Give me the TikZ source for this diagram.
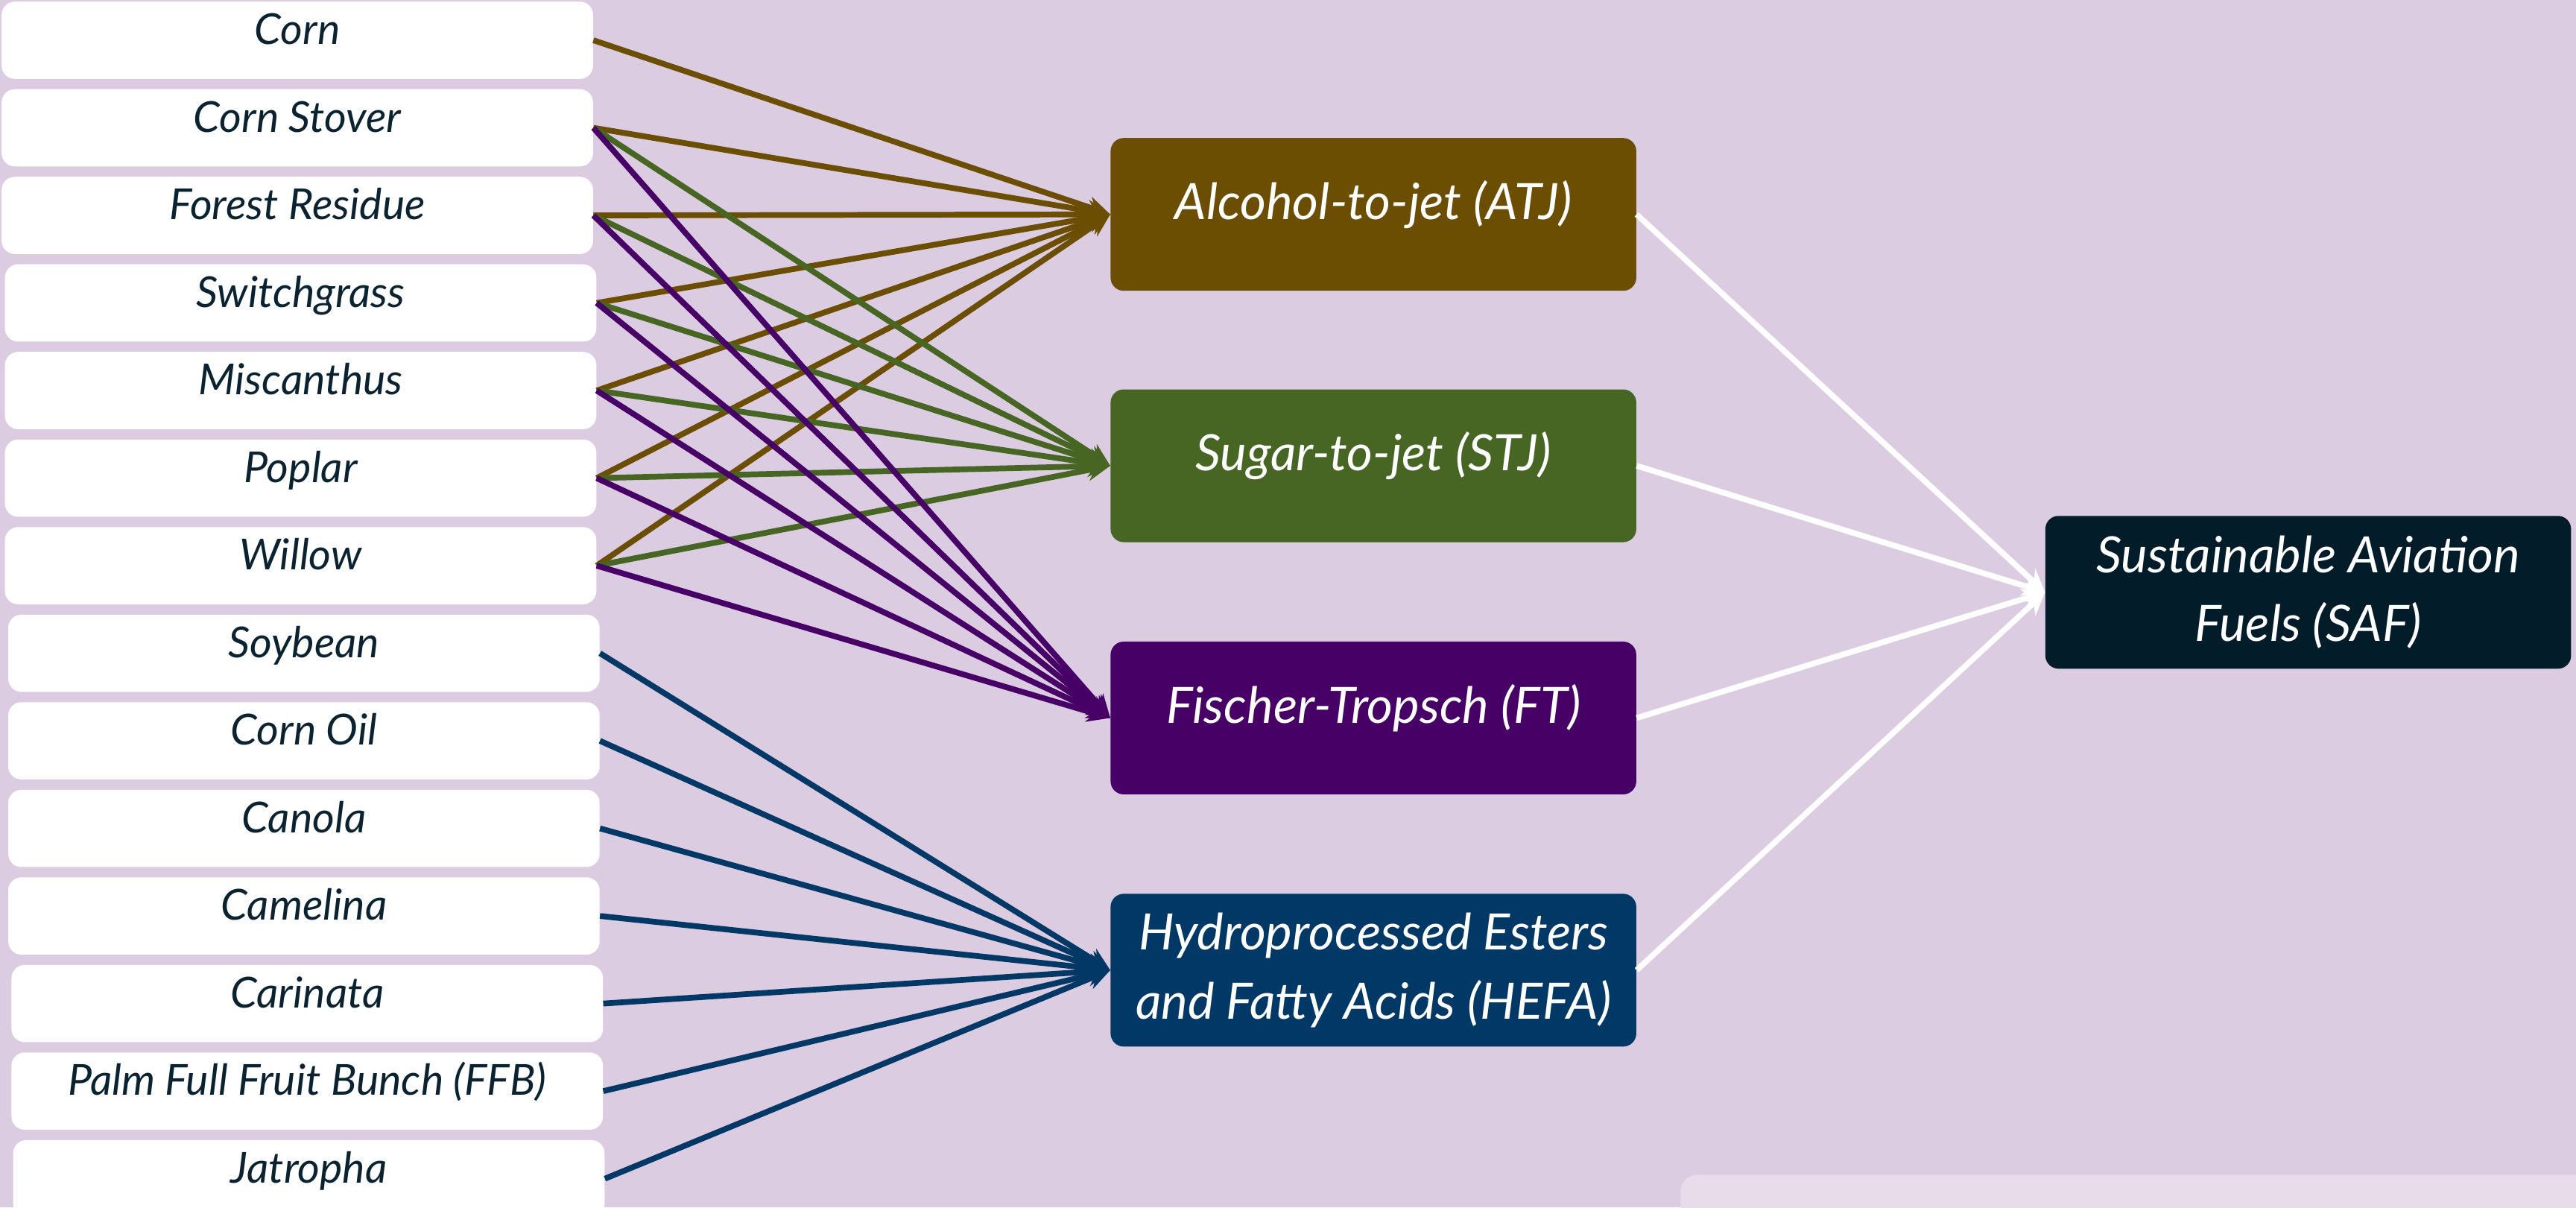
\documentclass[tikz,border=0pt]{standalone}
\usepackage{fontspec}
\setmainfont{Lato}
\usetikzlibrary{arrows.meta}
\definecolor{bgc}{RGB}{220,204,226}
\definecolor{lightc}{RGB}{232,220,234}
\definecolor{atjc}{RGB}{107,78,2}
\definecolor{stjc}{RGB}{71,102,36}
\definecolor{ftc}{RGB}{70,0,102}
\definecolor{hefac}{RGB}{2,56,102}
\definecolor{safc}{RGB}{2,28,41}
\definecolor{txtc}{RGB}{11,35,49}
\newcommand{\feedfont}{\fontsize{26}{30}\selectfont\itshape}
\newcommand{\procfont}{\fontsize{30.5}{42}\selectfont\itshape}
\tikzset{
  feed/.style={fill=white, rounded corners=8pt, minimum width=360pt, minimum height=47pt, inner sep=0pt, text height=19pt, text depth=14pt, text=txtc, font=\feedfont},
  proc/.style={rounded corners=8pt, minimum width=320pt, minimum height=93pt, inner sep=0pt, text=white, font=\procfont, align=center},
  proc1/.style={proc, text height=22pt, text depth=16pt},
  arr/.style={line width=3.5pt, -{Stealth[length=14pt,width=13pt]}},
}
\begin{document}
\begin{tikzpicture}[x=1pt,y=-1pt]
\useasboundingbox (0,0) rectangle (1568,735);
\clip (0,0) rectangle (1568,735);
\fill[bgc] (0,0) rectangle (1568,735);
\fill[lightc, rounded corners=10pt] (1023,715) rectangle (1600,780);
% feedstocks
\node[feed] (corn) at (181,24.5) {Corn};
\node[feed] (stover) at (181,77.8) {Corn Stover};
\node[feed] (forest) at (181,131.1) {Forest Residue};
\node[feed] (switch) at (183,184.4) {Switchgrass};
\node[feed] (misc) at (183,237.7) {Miscanthus};
\node[feed] (poplar) at (183,291) {Poplar};
\node[feed] (willow) at (183,344.3) {Willow};
\node[feed] (soy) at (185,397.6) {Soybean};
\node[feed] (cornoil) at (185,450.9) {Corn Oil};
\node[feed] (canola) at (185,504.2) {Canola};
\node[feed] (camelina) at (185,557.5) {Camelina};
\node[feed] (carinata) at (187,610.8) {Carinata};
\node[feed] (palm) at (187,664.1) {Palm Full Fruit Bunch (FFB)};
\node[feed] (jatropha) at (188,717.4) {Jatropha};
% processes
\node[proc1, fill=atjc] (atj) at (836,130.5) {Alcohol-to-jet (ATJ)};
\node[proc1, fill=stjc] (stj) at (836,283.5) {Sugar-to-jet (STJ)};
\node[proc1, fill=ftc] (ft) at (836,437) {Fischer-Tropsch (FT)};
\node[proc, fill=hefac] (hefa) at (836,590.5) {Hydroprocessed Esters\\and Fatty Acids (HEFA)};
\node[proc, fill=safc] (saf) at (1405,360.5) {Sustainable Aviation\\Fuels (SAF)};
% connectors
\foreach \s in {corn,stover,forest,switch,misc,poplar,willow}
  \draw[arr, atjc] (\s.east) -- (atj.west);
\foreach \s in {stover,forest,switch,misc,poplar,willow}
  \draw[arr, stjc] (\s.east) -- (stj.west);
\foreach \s in {stover,forest,switch,misc,poplar,willow}
  \draw[arr, ftc] (\s.east) -- (ft.west);
\foreach \s in {soy,cornoil,canola,camelina,carinata,palm,jatropha}
  \draw[arr, hefac] (\s.east) -- (hefa.west);
\foreach \s in {atj,stj,ft,hefa}
  \draw[arr, white] (\s.east) -- (saf.west);
\end{tikzpicture}
\end{document}
